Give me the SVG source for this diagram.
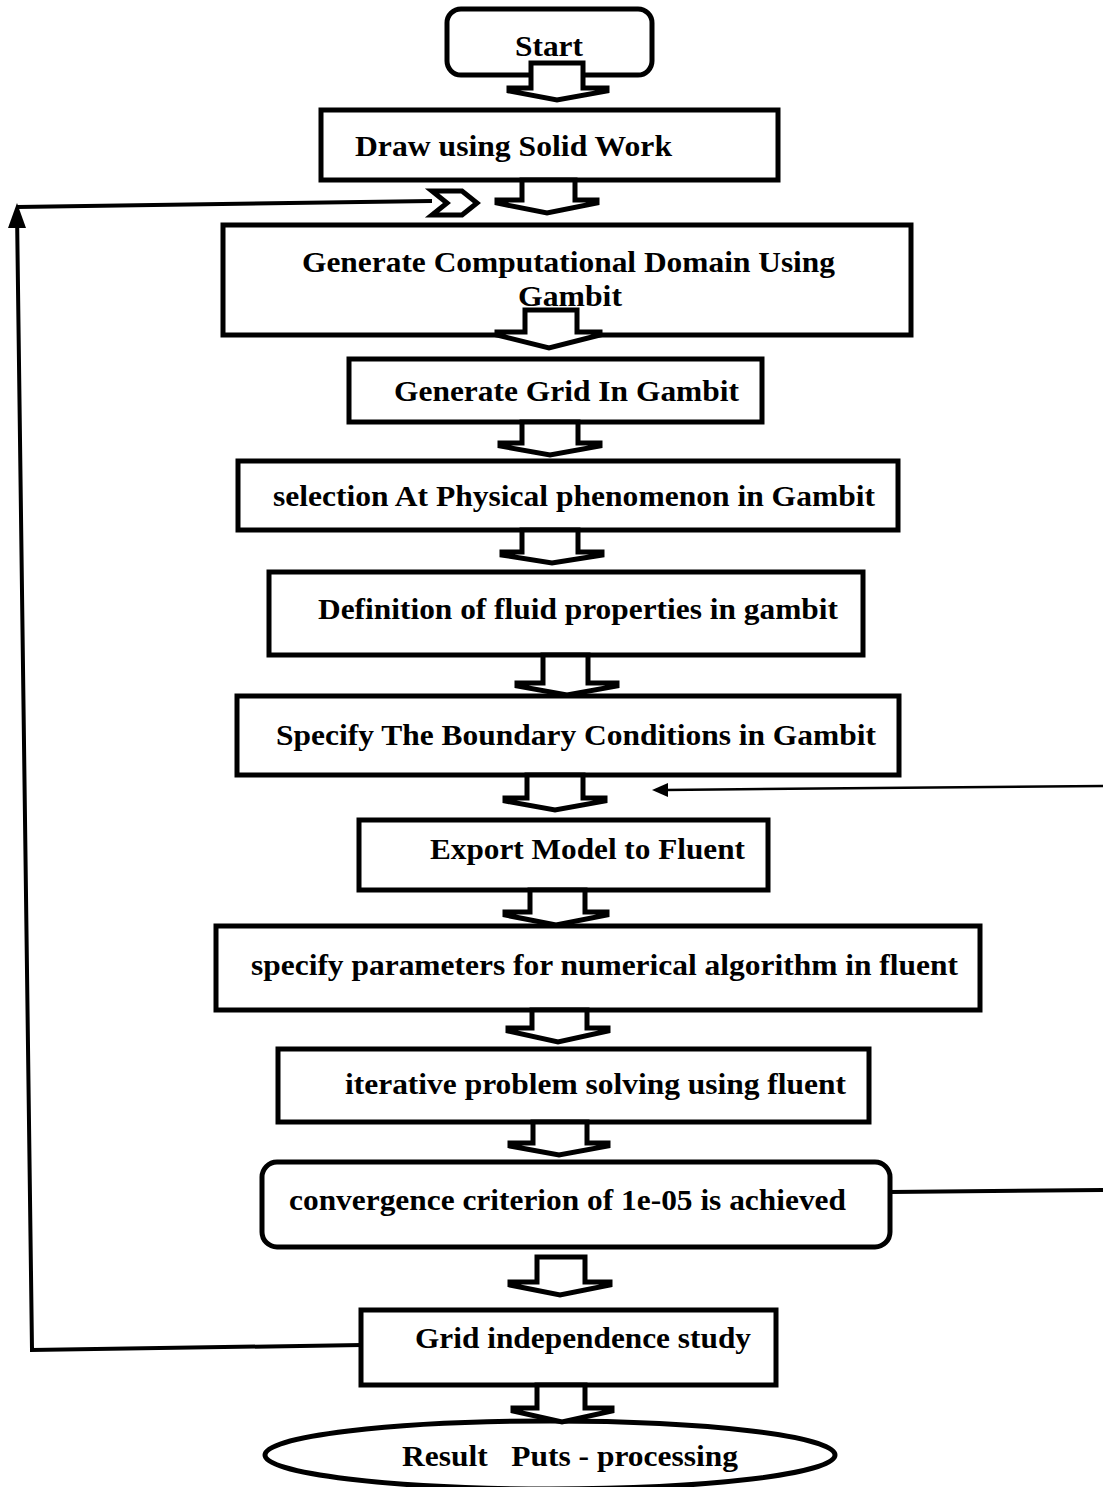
<svg xmlns="http://www.w3.org/2000/svg" width="1103" height="1487" viewBox="0 0 1103 1487">
<style>
.box{fill:#fff;stroke:#000;stroke-width:5}
.blk{fill:#fff;stroke:#000;stroke-width:5;stroke-linejoin:miter}
.ln{fill:none;stroke:#000;stroke-width:4}
.thin{fill:none;stroke:#000;stroke-width:2.5}
text{font-family:"Liberation Serif","Times New Roman",serif;font-weight:bold;font-size:29px;fill:#000}
</style>
<defs>
<marker id="ah" viewBox="0 0 10 10" refX="9" refY="5" markerWidth="6" markerHeight="6" orient="auto" markerUnits="userSpaceOnUse">
<path d="M0,0 L10,5 L0,10 z" fill="#000"/>
</marker>
</defs>
<rect width="1103" height="1487" fill="#fff"/>

<g id="n-start"><rect class="box" x="447" y="9" width="205" height="66" rx="14"/><text x="515" y="56" textLength="68" lengthAdjust="spacingAndGlyphs">Start</text></g>
<g id="n-draw"><rect class="box" x="321" y="110" width="457" height="70"/><text x="355" y="156" textLength="317" lengthAdjust="spacingAndGlyphs">Draw using Solid Work</text></g>
<g id="n-domain"><rect class="box" x="223" y="225" width="688" height="110"/><text x="302" y="272" textLength="533" lengthAdjust="spacingAndGlyphs">Generate Computational Domain Using</text><text x="518" y="306" textLength="104" lengthAdjust="spacingAndGlyphs">Gambit</text></g>
<g id="n-grid"><rect class="box" x="349" y="359" width="413" height="63"/><text x="394" y="401" textLength="345" lengthAdjust="spacingAndGlyphs">Generate Grid In Gambit</text></g>
<g id="n-phys"><rect class="box" x="238" y="461" width="660" height="69"/><text x="273" y="506" textLength="602" lengthAdjust="spacingAndGlyphs">selection At Physical phenomenon in Gambit</text></g>
<g id="n-fluid"><rect class="box" x="269" y="572" width="594" height="83"/><text x="318" y="619" textLength="520" lengthAdjust="spacingAndGlyphs">Definition of fluid properties in gambit</text></g>
<g id="n-bc"><rect class="box" x="237" y="696" width="662" height="79"/><text x="276" y="745" textLength="600" lengthAdjust="spacingAndGlyphs">Specify The Boundary Conditions in Gambit</text></g>
<g id="n-export"><rect class="box" x="359" y="820" width="409" height="70"/><text x="430" y="859" textLength="315" lengthAdjust="spacingAndGlyphs">Export Model to Fluent</text></g>
<g id="n-params"><rect class="box" x="216" y="926" width="764" height="84"/><text x="251" y="975" textLength="707" lengthAdjust="spacingAndGlyphs">specify parameters for numerical algorithm in fluent</text></g>
<g id="n-iter"><rect class="box" x="278" y="1049" width="591" height="73"/><text x="345" y="1094" textLength="501" lengthAdjust="spacingAndGlyphs">iterative problem solving using fluent</text></g>
<g id="n-conv"><rect class="box" x="262" y="1162" width="628" height="85" rx="15"/><text x="289" y="1210" textLength="557" lengthAdjust="spacingAndGlyphs">convergence criterion of 1e-05 is achieved</text></g>
<g id="n-gis"><rect class="box" x="361" y="1310" width="415" height="75"/><text x="415" y="1348" textLength="336" lengthAdjust="spacingAndGlyphs">Grid independence study</text></g>
<g id="n-result"><ellipse class="box" cx="550" cy="1455" rx="285" ry="34"/><text x="402" y="1466" textLength="336" lengthAdjust="spacingAndGlyphs" xml:space="preserve">Result   Puts - processing</text></g>

<g id="connectors">
<polygon class="blk" points="531,63 583,63 583,88 607,88 607,91 557,100 509,91 509,88 531,88"/>
<polygon class="blk" points="522,180 575,180 575,200 597,200 597,203 547,213 497,203 497,200 522,200"/>
<polygon class="blk" points="525,310 577,310 577,332 600,332 600,335 549,348 497,335 497,332 525,332"/>
<polygon class="blk" points="522,422 578,422 578,443 600,443 600,446 550,455 500,446 500,443 522,443"/>
<polygon class="blk" points="522,530 578,530 578,552 602,552 602,555 552,563 502,555 502,552 522,552"/>
<polygon class="blk" points="543,655 588,655 588,683 617,683 617,686 567,695 517,686 517,683 543,683"/>
<polygon class="blk" points="527,775 583,775 583,798 605,798 605,801 555,810 505,801 505,798 527,798"/>
<polygon class="blk" points="530,890 585,890 585,912 607,912 607,915 556,925 505,915 505,912 530,912"/>
<polygon class="blk" points="532,1010 587,1010 587,1028 608,1028 608,1031 558,1042 508,1031 508,1028 532,1028"/>
<polygon class="blk" points="533,1122 587,1122 587,1143 608,1143 608,1146 559,1155 510,1146 510,1143 533,1143"/>
<polygon class="blk" points="537,1257 585,1257 585,1282 610,1282 610,1285 560,1295 510,1285 510,1282 537,1282"/>
<polygon class="blk" points="537,1385 585,1385 585,1408 612,1408 612,1411 562,1422 513,1411 513,1408 537,1408"/>
<polygon class="blk" points="432,191 462,191 477,203 462,215 432,215 447,203"/>
<polyline class="ln" points="362,1345 32,1350 17,212"/>
<line class="ln" x1="17" y1="207" x2="432" y2="201"/>
<polygon points="17,203 8,228 26,228" fill="#000"/>
<line class="thin" x1="1103" y1="786" x2="665" y2="790"/>
<polygon points="652,790 668,783 668,797" fill="#000"/>
<line class="ln" x1="890" y1="1192" x2="1103" y2="1190"/>
</g>
</svg>
